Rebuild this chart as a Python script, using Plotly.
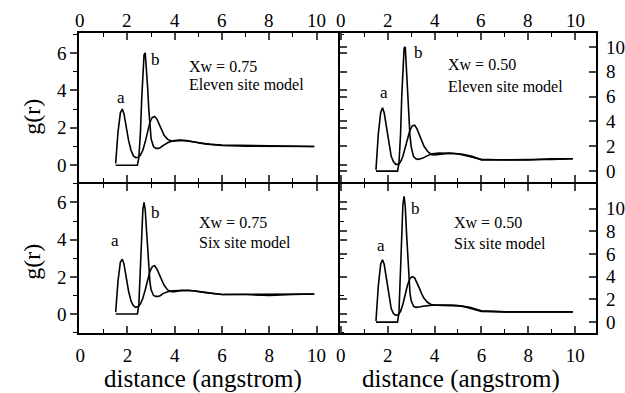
import plotly.graph_objects as go

# ---------------- data ----------------
r_a = [1.5, 1.53, 1.6, 1.7, 1.78, 1.85, 1.95, 2.05, 2.15, 2.25, 2.35, 2.45, 2.55, 2.65,
       2.75, 2.85, 2.95, 3.05, 3.15, 3.25, 3.35, 3.45, 3.55, 3.7, 3.85, 4.0, 4.3, 4.6,
       5.0, 5.5, 6.0, 7.0, 8.0, 9.0, 9.9]
r_b = [1.5, 2.42, 2.48, 2.55, 2.6, 2.65, 2.7, 2.75, 2.8, 2.85, 2.9, 2.95, 3.0, 3.1,
       3.2, 3.3, 3.4, 3.5, 3.7, 3.9, 4.2, 4.5, 4.8, 5.2, 5.6, 6.0, 7.0, 8.0, 9.0, 9.9]

# Xw = 0.75, eleven site model
g_a_11_075 = [0.1, 0.6, 1.8, 2.8, 3.0, 2.75, 2.0, 1.3, 0.8, 0.5, 0.4, 0.42, 0.55, 0.8,
              1.25, 1.8, 2.3, 2.55, 2.6, 2.45, 2.15, 1.85, 1.6, 1.38, 1.3, 1.3, 1.32, 1.28,
              1.2, 1.12, 1.08, 1.05, 1.02, 1.0, 1.0]
g_b_11_075 = [0, 0, 0.4, 1.8, 3.5, 5.0, 5.9, 6.0, 5.3, 4.2, 3.0, 2.0, 1.4, 1.0,
              0.9, 0.9, 0.95, 1.05, 1.2, 1.3, 1.35, 1.32, 1.25, 1.15, 1.1, 1.05, 1.02, 1.0, 1.0, 1.0]
# Xw = 0.50, eleven site model
g_a_11_050 = [0.1, 1.0, 3.0, 4.7, 5.1, 4.7, 3.4, 2.1, 1.2, 0.75, 0.55, 0.55, 0.75, 1.2,
              1.9, 2.7, 3.3, 3.65, 3.7, 3.4, 2.9, 2.4, 2.0, 1.6, 1.35, 1.3, 1.4, 1.45,
              1.4, 1.2, 0.95, 0.9, 0.9, 1.0, 1.0]
g_b_11_050 = [0, 0, 0.6, 3.0, 6.0, 8.5, 9.9, 10.0, 8.2, 6.2, 4.3, 2.9, 2.0, 1.2,
              1.0, 0.95, 1.0, 1.05, 1.25, 1.4, 1.45, 1.45, 1.42, 1.35, 1.2, 0.9, 0.9, 0.9, 0.95, 1.0]
# Xw = 0.75, six site model
g_a_6_075 = [0.1, 0.6, 1.8, 2.8, 2.95, 2.7, 1.9, 1.2, 0.7, 0.45, 0.36, 0.4, 0.55, 0.85,
             1.3, 1.85, 2.3, 2.55, 2.6, 2.4, 2.1, 1.8, 1.55, 1.3, 1.2, 1.2, 1.28, 1.28,
             1.2, 1.12, 1.05, 1.05, 1.05, 1.08, 1.08]
g_b_6_075 = [0, 0, 0.5, 2.5, 4.3, 5.6, 6.0, 5.6, 4.6, 3.4, 2.4, 1.7, 1.3, 1.0,
             0.95, 0.95, 1.0, 1.1, 1.2, 1.25, 1.27, 1.27, 1.25, 1.18, 1.12, 1.05, 1.05, 1.0, 1.05, 1.08]
# Xw = 0.50, six site model
g_a_6_050 = [0.1, 1.0, 3.2, 5.1, 5.5, 5.1, 3.7, 2.2, 1.2, 0.75, 0.6, 0.65, 0.95, 1.6,
             2.5, 3.3, 3.85, 4.0, 3.9, 3.5, 3.0, 2.5, 2.1, 1.75, 1.55, 1.5, 1.5, 1.5,
             1.45, 1.3, 1.0, 0.9, 0.9, 0.9, 0.9]
g_b_6_050 = [0, 0, 0.8, 4.5, 8.0, 10.4, 11.1, 10.2, 8.0, 5.8, 3.9, 2.6, 1.9, 1.4,
             1.3, 1.3, 1.35, 1.4, 1.45, 1.5, 1.5, 1.5, 1.48, 1.4, 1.2, 0.95, 0.9, 0.9, 0.9, 0.9]

panel_titles = [("Xw = 0.75", "Eleven site model"), ("Xw = 0.50", "Eleven site model"),
                ("Xw = 0.75", "Six site model"), ("Xw = 0.50", "Six site model")]
x_ticks = [0, 2, 4, 6, 8, 10]
y_ticks_left = [0, 2, 4, 6]
y_ticks_right = [0, 2, 4, 6, 8, 10]

# ---------------- figure ----------------
W, H = 625, 393
FONT = "Liberation Serif"
LW = 1.8
h = LW / 2
fig = go.Figure()

XL = [(76) / W, (338 - h) / W]
XR = [(338 + h) / W, 598 / W]
YT = [(H - 183 + h) / H, (H - 33) / H]
YB = [(H - 333) / H, (H - 183 - h) / H]

panels = [
    dict(ga=g_a_11_075, gb=g_b_11_075, xd=XL, yd=YT,
         xr=[-0.04, 10.9], yr=[-0.9, 7.06], top=True, left=True,
         txt=(4.5, 5.26, 4.3), a=(1.71, 3.61), b=(3.17, 5.63)),
    dict(ga=g_a_11_050, gb=g_b_11_050, xd=XR, yd=YT,
         xr=[-0.05, 10.9], yr=[-0.88, 11.12], top=True, left=False,
         txt=(4.5, 8.56, 6.8), a=(1.85, 6.32), b=(3.32, 9.52)),
    dict(ga=g_a_6_075, gb=g_b_6_075, xd=XL, yd=YB,
         xr=[-0.04, 10.9], yr=[-1.02, 7.0], top=False, left=True,
         txt=(4.92, 4.92, 3.85), a=(1.46, 3.96), b=(3.17, 5.45)),
    dict(ga=g_a_6_050, gb=g_b_6_050, xd=XR, yd=YB,
         xr=[-0.05, 10.9], yr=[-0.96, 12.19], top=False, left=False,
         txt=(4.75, 8.77, 6.93), a=(1.72, 6.75), b=(3.19, 10.0)),
]

layout = {}
annotations = []
for i, p in enumerate(panels, start=1):
    xa = "x" if i == 1 else f"x{i}"
    ya = "y" if i == 1 else f"y{i}"
    for rr, gg in ((r_a, p["ga"]), (r_b, p["gb"])):
        fig.add_trace(go.Scatter(x=rr, y=gg, xaxis=xa, yaxis=ya, mode="lines",
                                 line=dict(color="black", width=1.6),
                                 showlegend=False, hoverinfo="skip"))
    xkey = "xaxis" if i == 1 else f"xaxis{i}"
    ykey = "yaxis" if i == 1 else f"yaxis{i}"
    layout[xkey] = dict(
        domain=p["xd"], range=p["xr"], anchor=ya, side="top" if p["top"] else "bottom",
        tickvals=x_ticks, ticks="inside", ticklen=7, tickwidth=1.6, mirror="allticks",
        showline=True, linecolor="black", linewidth=LW, showgrid=False, zeroline=False,
        tickfont=dict(family=FONT, size=19, color="black"),
        showticklabels=not p["top"],
        ticklabelstandoff=4,
        minor=dict(dtick=1, ticks="inside", ticklen=4, tickwidth=1.4, tickcolor="black", showgrid=False),
    )
    if p["top"]:
        # top tick labels sit closer to the frame than plotly places them
        for tv in x_ticks:
            annotations.append(dict(x=tv, y=(H - 21) / H, xref=xa, yref="paper", text=str(tv),
                                    showarrow=False, xanchor="center", yanchor="middle",
                                    font=dict(family=FONT, size=19, color="black")))
    yt = y_ticks_left if p["left"] else y_ticks_right
    yd = dict(
        domain=p["yd"], range=p["yr"], anchor=xa, side="left" if p["left"] else "right",
        tickvals=yt, ticks="outside" if p["left"] else "inside", ticklen=7, tickwidth=1.6,
        mirror="allticks", showline=True, linecolor="black", linewidth=LW, showgrid=False,
        zeroline=False, tickfont=dict(family=FONT, size=19, color="black"),
        ticklabelstandoff=0 if p["left"] else 4,
    )
    if p["left"]:
        yd["minor"] = dict(dtick=1, ticks="outside", ticklen=4, tickwidth=1.4,
                           tickcolor="black", showgrid=False)
    layout[ykey] = yd

    tx, ty1, ty2 = p["txt"]
    for t, yy in ((panel_titles[i-1][0], ty1), (panel_titles[i-1][1], ty2)):
        annotations.append(dict(x=tx, y=yy, xref=xa, yref=ya, text=t, showarrow=False,
                                xanchor="left", yanchor="middle",
                                font=dict(family=FONT, size=16, color="black")))
    for lab, (lx, ly) in (("a", p["a"]), ("b", p["b"])):
        annotations.append(dict(x=lx, y=ly, xref=xa, yref=ya, text=lab, showarrow=False,
                                xanchor="center", yanchor="middle",
                                font=dict(family=FONT, size=17, color="black")))

# axis titles
for yc in (117, 262):
    annotations.append(dict(x=28/W, y=(H-yc)/H, xref="paper", yref="paper", text="g(r)",
                            textangle=-90, showarrow=False, xanchor="center", yanchor="middle",
                            font=dict(family=FONT, size=24, color="black")))
for xc in (201, 461):
    annotations.append(dict(x=xc/W, y=(H-379)/H, xref="paper", yref="paper",
                            text="distance (angstrom)", showarrow=False,
                            xanchor="center", yanchor="middle",
                            font=dict(family=FONT, size=25, color="black")))

fig.update_layout(**layout)
fig.update_layout(width=W, height=H, margin=dict(l=0, r=0, t=0, b=0),
                  paper_bgcolor="white", plot_bgcolor="white",
                  annotations=annotations, showlegend=False)

fig.write_html("out.html", config={"displayModeBar": False})
